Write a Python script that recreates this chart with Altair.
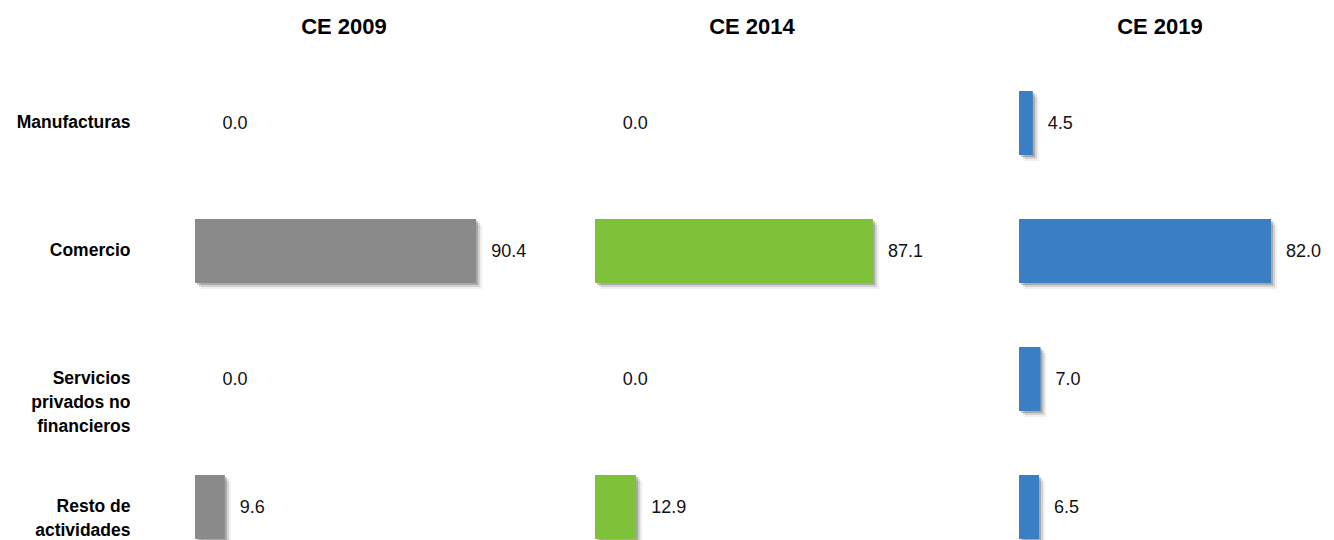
import json
import altair as alt
import pandas as pd

categories = ["Manufacturas", "Comercio", "Servicios privados no financieros", "Resto de actividades"]
label_lines = [["Manufacturas"], ["Comercio"], ["Servicios", "privados no", "financieros"], ["Resto de", "actividades"]]
titles = ["CE 2009", "CE 2014", "CE 2019"]
ce2009 = [0.0, 90.4, 0.0, 9.6]
ce2014 = [0.0, 87.1, 0.0, 12.9]
ce2019 = [4.5, 82.0, 7.0, 6.5]
colors = ["#8a8a8a", "#80c13a", "#3a7ec3"]

FONT = "Liberation Sans"

mapping = {c: l for c, l in zip(categories, label_lines)}
label_expr = json.dumps(mapping) + "[datum.value]"


def panel(values, color, title, width, dmax, show_axis, tdx):
    df = pd.DataFrame({
        "cat": categories,
        "v": values,
    })
    df["lx"] = df["v"].clip(lower=4)
    if show_axis:
        axis = alt.Axis(title=None, ticks=False, domain=False, labelFont=FONT,
                        labelFontSize=17.5, labelFontWeight="bold", labelColor="#000",
                        labelPadding=65, labelAlign="right", labelLineHeight=24,
                        labelExpr=label_expr, labelLimit=300)
    else:
        axis = None
    y = alt.Y("cat:N", sort=categories, axis=axis,
              scale=alt.Scale(paddingInner=0.5, paddingOuter=0.25))
    xs = alt.Scale(domain=[0, dmax])
    base = alt.Chart(df).encode(y=y)
    layers = []
    for off, op in [(6, 0.06), (4, 0.12), (2, 0.2)]:
        layers.append(base.mark_bar(color="#000", opacity=op, xOffset=off, yOffset=off).encode(
            x=alt.X("v:Q", scale=xs, axis=None)))
    layers.append(base.mark_bar(color=color).encode(
        x=alt.X("v:Q", scale=xs, axis=None)))
    layers.append(base.mark_text(align="left", baseline="middle", dx=15, dy=1, font=FONT,
                                 fontSize=18, color="#111").encode(
        x=alt.X("lx:Q", scale=xs, axis=None), text=alt.Text("v:Q", format=".1f")))
    return alt.layer(*layers).properties(
        width=width, height=512,
        title=alt.TitleParams(title, font=FONT, fontSize=22, fontWeight="bold",
                              color="#000", anchor="middle", offset=20, dx=tdx))


p1 = panel(ce2009, colors[0], titles[0], 320, 102.9, True, -11)
p2 = panel(ce2014, colors[1], titles[1], 344, 107.8, False, -15)
p3 = panel(ce2019, colors[2], titles[2], 280, 91.1, False, 1)

chart = alt.hconcat(p1, p2, p3, spacing=80, bounds="flush").resolve_scale(
    x="independent").configure_view(stroke=None).properties(
    padding={"left": 8, "top": 8, "right": 0, "bottom": 0})

chart.save("out.html", embed_options={"renderer": "svg", "actions": False})
